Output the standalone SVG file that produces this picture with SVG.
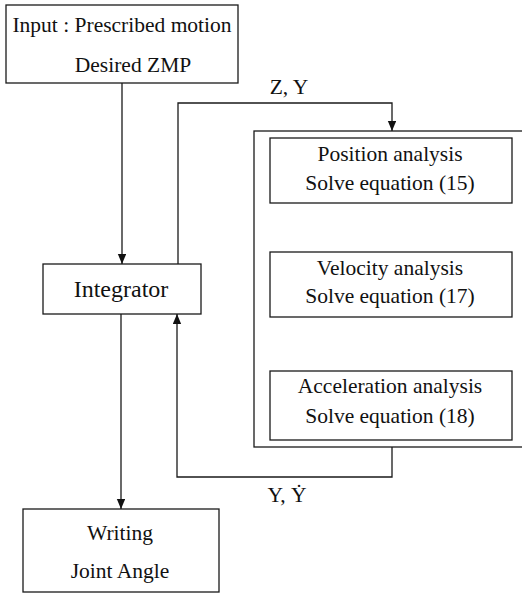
<svg xmlns="http://www.w3.org/2000/svg" width="522" height="593" viewBox="0 0 522 593">
<style>
.box{fill:#fff;stroke:#1a1a1a;stroke-width:1.3}
.wire{fill:none;stroke:#1a1a1a;stroke-width:1.3}
text{font-family:"Liberation Serif","DejaVu Serif",serif;font-size:21.5px;fill:#111;text-anchor:middle}
</style>
<defs>
<marker id="arr" viewBox="0 0 10 12" refX="12" refY="5" markerWidth="12" markerHeight="10" markerUnits="userSpaceOnUse" orient="auto">
<path d="M0,0 L12,5 L0,10 Z" fill="#111"/>
</marker>
</defs>
<g id="container">
<rect class="box" x="254" y="131" width="280" height="316"/>
</g>
<g id="input">
<rect class="box" x="6" y="5" width="232" height="78"/>
<text x="122" y="32">Input : Prescribed motion</text>
<text x="133" y="72">Desired ZMP</text>
</g>
<g id="integrator">
<rect class="box" x="43" y="264" width="158" height="50"/>
<text x="121" y="297" style="font-size:24px">Integrator</text>
</g>
<g id="position">
<rect class="box" x="270" y="138" width="242" height="65"/>
<text x="390" y="161">Position analysis</text>
<text x="390" y="190">Solve equation (15)</text>
</g>
<g id="velocity">
<rect class="box" x="270" y="252" width="242" height="65"/>
<text x="390" y="275">Velocity analysis</text>
<text x="390" y="303">Solve equation (17)</text>
</g>
<g id="acceleration">
<rect class="box" x="270" y="371" width="242" height="69"/>
<text x="390" y="393">Acceleration analysis</text>
<text x="390" y="423">Solve equation (18)</text>
</g>
<g id="writing">
<rect class="box" x="23" y="509" width="196" height="83"/>
<text x="120" y="540">Writing</text>
<text x="120" y="578">Joint Angle</text>
</g>
<g id="connectors">
<path class="wire" d="M122,83 V264" marker-end="url(#arr)"/>
<path class="wire" d="M178,264 V103 H392 V131" marker-end="url(#arr)"/>
<path class="wire" d="M392,447 V477 H177 V314" marker-end="url(#arr)"/>
<path class="wire" d="M121,314 V509" marker-end="url(#arr)"/>
<text x="289" y="94">Z, Y</text>
<text x="287" y="502">Y, Ẏ</text>
</g>
</svg>
